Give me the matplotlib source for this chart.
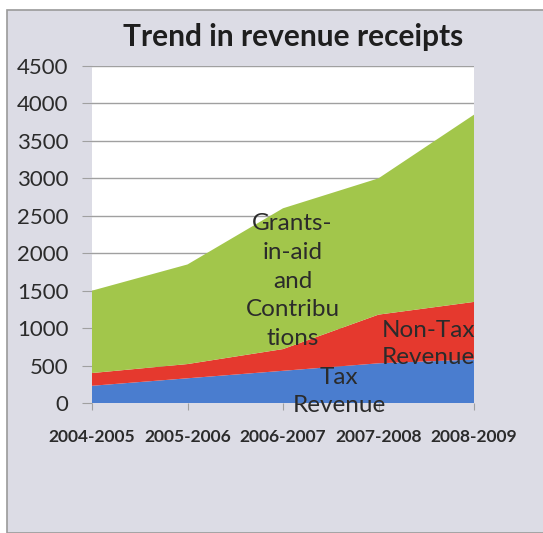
import matplotlib
matplotlib.use("Agg")
import matplotlib.pyplot as plt
from matplotlib.patches import Rectangle

plt.rcParams["font.family"] = ["Lato", "DejaVu Sans"]

# data
years = ["2004-2005", "2005-2006", "2006-2007", "2007-2008", "2008-2009"]
tax_revenue = [230, 330, 430, 530, 580]
non_tax_revenue = [170, 190, 290, 650, 770]
grants_in_aid = [1100, 1330, 1880, 1820, 2500]

yticks = [0, 500, 1000, 1500, 2000, 2500, 3000, 3500, 4000, 4500]

col_tax = "#4a7dcf"
col_nontax = "#e5392e"
col_grants = "#a2c64b"
bg = "#dcdce5"
txt = "#2b2b2b"

fig = plt.figure(figsize=(5.43, 5.33), dpi=100)
fig.patch.set_facecolor("white")
# grey chart frame
fig.patches.append(Rectangle((7 / 543, 0), 1, 523 / 533, transform=fig.transFigure,
                             facecolor=bg, edgecolor="#9a9a9a", linewidth=1.2, zorder=-5))

ax = fig.add_axes([92 / 543, 1 - 403 / 533, 382 / 543, 337 / 533])
ax.set_facecolor("white")

x = list(range(len(years)))
ax.stackplot(x, tax_revenue, non_tax_revenue, grants_in_aid,
             colors=[col_tax, col_nontax, col_grants], linewidth=0, zorder=2)

ax.set_xlim(0, len(years) - 1)
ax.set_ylim(0, 4500)
ax.set_yticks(yticks)
ax.set_yticklabels([str(v) for v in yticks], fontsize=16, color=txt)
ax.set_xticks(x)
ax.set_xticklabels(years, fontsize=12.5, fontweight="bold", color=txt)
ax.grid(axis="y", color="#a0a0a0", linewidth=1, zorder=1)
ax.set_axisbelow(True)
for s in ax.spines.values():
    s.set_visible(False)
ax.tick_params(axis="y", length=7, color="#a0a0a0", pad=10)
ax.tick_params(axis="x", length=5, color="#a0a0a0", pad=14)

fig.text(293 / 543, 1 - 37 / 533, "Trend in revenue receipts", ha="center", va="center",
         fontsize=21.5, fontweight="bold", color="#1e1e1e")

ax.text(2.10, 1627, "Grants-\nin-aid\nand\nContribu\ntions", ha="center", va="center",
        fontsize=17.5, color=txt, linespacing=1.45, zorder=3)
ax.text(3.52, 790, "Non-Tax\nRevenue", ha="center", va="center",
        fontsize=17.5, color=txt, linespacing=1.35, zorder=3)
ax.text(2.59, 150, "Tax\nRevenue", ha="center", va="center",
        fontsize=17.5, color=txt, linespacing=1.4, zorder=3, clip_on=False)

fig.savefig("out.png", dpi=100)
